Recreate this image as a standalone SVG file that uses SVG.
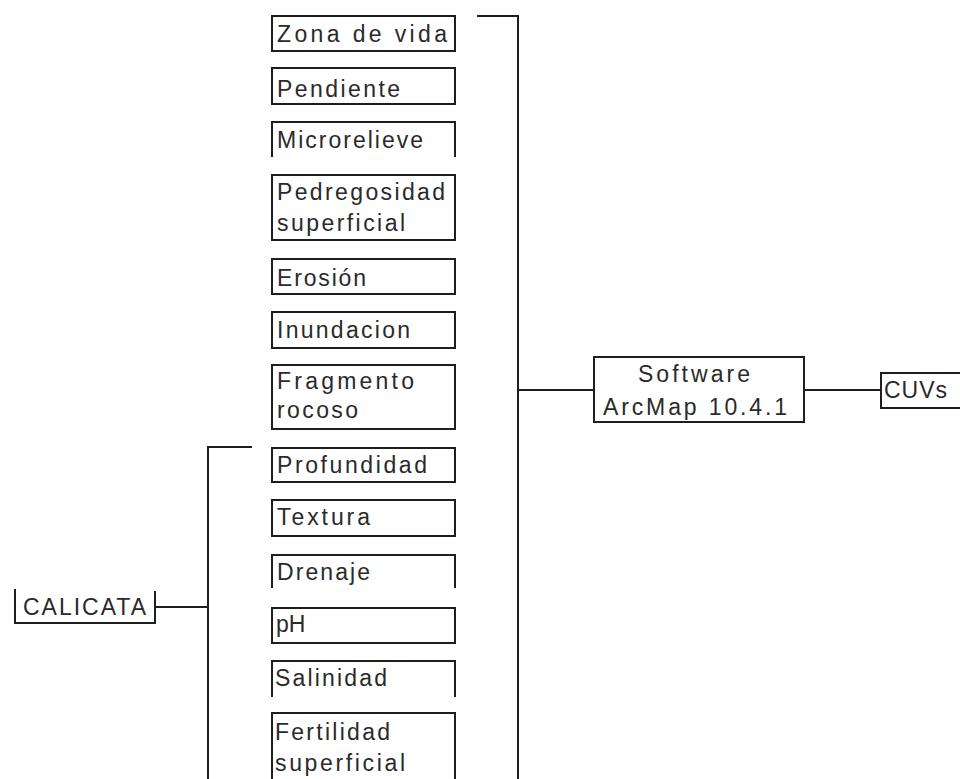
<svg xmlns="http://www.w3.org/2000/svg" width="960" height="779" viewBox="0 0 960 779">
<style>
.ln{fill:none;stroke:#1e1e1e;stroke-width:2}
.t{font-family:"Liberation Sans",Arial,sans-serif;font-size:23px;fill:#2a2a2a}
</style>
<rect width="960" height="779" fill="#fff"/>
<g id="connectors">
<polyline class="ln" points="477,16 518,16 518,779"/>
<line class="ln" x1="518" y1="390" x2="594" y2="390"/>
<line class="ln" x1="804" y1="390" x2="881" y2="390"/>
<polyline class="ln" points="252,447 208,447 208,779"/>
<line class="ln" x1="155" y1="607" x2="208" y2="607"/>
</g>
<g id="zona"><rect class="ln" x="272" y="16" width="183" height="35"/><text class="t" x="277" y="42" textLength="170" lengthAdjust="spacing">Zona de vida</text></g>
<g id="pendiente"><rect class="ln" x="272" y="68" width="183" height="36"/><text class="t" x="277" y="97" textLength="123" lengthAdjust="spacing">Pendiente</text></g>
<g id="microrelieve"><polyline class="ln" points="272,157 272,122 455,122 455,157"/><text class="t" x="277" y="148" textLength="146" lengthAdjust="spacing">Microrelieve</text></g>
<g id="pedregosidad"><rect class="ln" x="272" y="175" width="183" height="65"/><text class="t" x="277" y="200" textLength="168" lengthAdjust="spacing">Pedregosidad</text><text class="t" x="277" y="231" textLength="128" lengthAdjust="spacing">superficial</text></g>
<g id="erosion"><rect class="ln" x="272" y="259" width="183" height="35"/><text class="t" x="277" y="286" textLength="89" lengthAdjust="spacing">Erosión</text></g>
<g id="inundacion"><rect class="ln" x="272" y="312" width="183" height="36"/><text class="t" x="277" y="338" textLength="133" lengthAdjust="spacing">Inundacion</text></g>
<g id="fragmento"><rect class="ln" x="272" y="365" width="183" height="64"/><text class="t" x="277" y="389" textLength="137" lengthAdjust="spacing">Fragmento</text><text class="t" x="277" y="418" textLength="81" lengthAdjust="spacing">rocoso</text></g>
<g id="profundidad"><rect class="ln" x="272" y="448" width="183" height="34"/><text class="t" x="277" y="473" textLength="150" lengthAdjust="spacing">Profundidad</text></g>
<g id="textura"><rect class="ln" x="272" y="500" width="183" height="36"/><text class="t" x="277" y="525" textLength="93" lengthAdjust="spacing">Textura</text></g>
<g id="drenaje"><polyline class="ln" points="272,588 272,555 455,555 455,588"/><text class="t" x="277" y="580" textLength="93" lengthAdjust="spacing">Drenaje</text></g>
<g id="ph"><rect class="ln" x="272" y="608" width="183" height="35"/><text class="t" x="276" y="632">pH</text></g>
<g id="salinidad"><polyline class="ln" points="272,697 272,661 455,661 455,697"/><text class="t" x="275" y="686" textLength="112" lengthAdjust="spacing">Salinidad</text></g>
<g id="fertilidad"><polyline class="ln" points="272,779 272,713 455,713 455,779"/><text class="t" x="275" y="740" textLength="115" lengthAdjust="spacing">Fertilidad</text><text class="t" x="275" y="771" textLength="130" lengthAdjust="spacing">superficial</text></g>
<g id="calicata"><polyline class="ln" points="15,589 15,623 155,623 155,591"/><text class="t" x="23" y="615" textLength="123" lengthAdjust="spacing">CALICATA</text></g>
<g id="software"><rect class="ln" x="594" y="357" width="210" height="65"/><text class="t" x="638" y="382" textLength="112" lengthAdjust="spacing">Software</text><text class="t" x="603" y="415" textLength="184" lengthAdjust="spacing">ArcMap 10.4.1</text></g>
<g id="cuvs"><polyline class="ln" points="962,373 881,373 881,408 962,408"/><text class="t" x="884" y="398" textLength="63" lengthAdjust="spacing">CUVs</text></g>
</svg>
